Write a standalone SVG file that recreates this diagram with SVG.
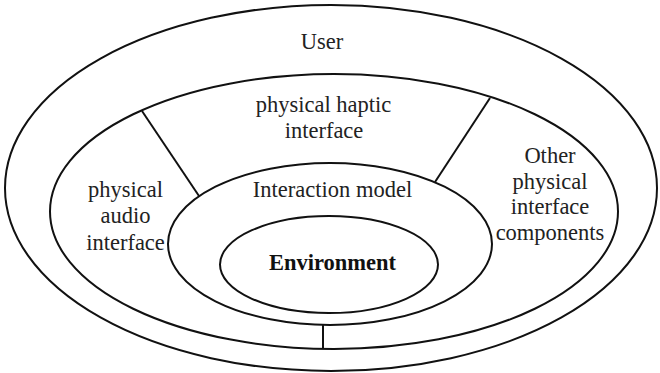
<svg xmlns="http://www.w3.org/2000/svg" width="660" height="373" viewBox="0 0 660 373">
<style>
.e{fill:none;stroke:#111;stroke-width:2}
.t{font-family:"Liberation Serif","Times New Roman",serif;font-size:22.5px;fill:#222;text-anchor:middle}
.b{font-weight:bold;fill:#111}
</style>
<rect width="660" height="373" fill="#fff"/>
<g id="user"><ellipse class="e" cx="331" cy="188" rx="326" ry="183"/><text class="t" x="322" y="49">User</text></g>
<g id="interface-ring"><ellipse class="e" cx="334" cy="211.5" rx="284" ry="137.5"/></g>
<g id="haptic"><text class="t" x="323.5" y="112">physical haptic</text><text class="t" x="324" y="138">interface</text></g>
<g id="audio"><text class="t" x="125.5" y="197">physical</text><text class="t" x="125.5" y="223">audio</text><text class="t" x="125.5" y="250">interface</text></g>
<g id="other"><text class="t" x="550" y="163">Other</text><text class="t" x="550" y="189">physical</text><text class="t" x="550" y="214">interface</text><text class="t" x="550" y="240">components</text></g>
<g id="interaction-model"><ellipse class="e" cx="330" cy="244" rx="162" ry="81"/><text class="t" x="332.5" y="197">Interaction model</text></g>
<g id="environment"><ellipse class="e" cx="329" cy="264.5" rx="109" ry="48.5"/><text class="t b" x="332.5" y="270">Environment</text></g>
<g id="connectors" stroke="#111" stroke-width="2">
<line x1="142" y1="111" x2="199" y2="196"/>
<line x1="490" y1="98" x2="435" y2="182"/>
<line x1="323" y1="325" x2="323" y2="349"/>
</g>
</svg>
